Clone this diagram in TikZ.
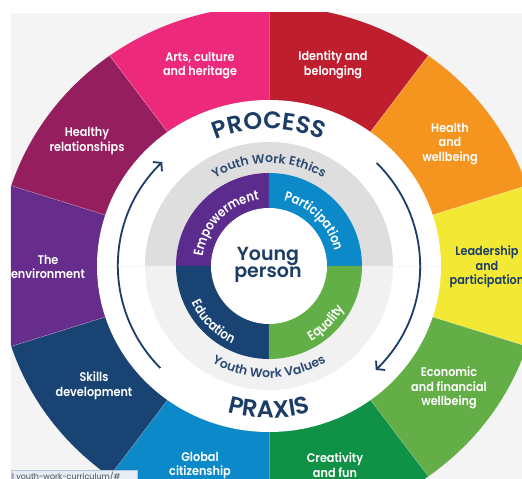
\documentclass[tikz,border=0pt]{standalone}
\usepackage{fontspec}
\setmainfont{Poppins}[BoldFont={Poppins SemiBold}]
\newfontfamily\narin{Poppins SemiBold}[FakeStretch=0.85]
\newfontfamily\narout{Poppins SemiBold}[FakeStretch=0.9]
\usetikzlibrary{decorations.text,arrows.meta}
\definecolor{navy}{HTML}{1B3D66}
\definecolor{ethics}{HTML}{2E4B74}
\definecolor{bggray}{HTML}{F4F4F4}
\definecolor{ringtop}{HTML}{DEDEDE}
\definecolor{ringbot}{HTML}{F1F1F1}
\definecolor{cIdent}{HTML}{BE1E2D}
\definecolor{cArts}{HTML}{EC297B}
\definecolor{cHeal}{HTML}{951E5F}
\definecolor{cEnv}{HTML}{662D8C}
\definecolor{cSkill}{HTML}{184373}
\definecolor{cGlob}{HTML}{0B89C8}
\definecolor{cCreat}{HTML}{0F9146}
\definecolor{cEcon}{HTML}{63AE47}
\definecolor{cLead}{HTML}{F3E935}
\definecolor{cHealth}{HTML}{F5941F}
\definecolor{cEmp}{HTML}{5B2C8E}
\definecolor{cPart}{HTML}{0B89C8}
\definecolor{cEdu}{HTML}{184373}
\definecolor{cEqu}{HTML}{62AE47}
\definecolor{urlbg}{HTML}{E6EDF5}
\definecolor{urlbd}{HTML}{B7C7DA}
\begin{document}
\begin{tikzpicture}[x=1pt,y=1pt,
  seglabel/.style={align=center,text=white,font=\narout\fontsize{12.5}{14.7}\selectfont,inner sep=0pt},
  cyclearrow/.style={navy,line width=1.8pt,-{Straight Barb[length=5.5pt,width=13pt]}}]
\useasboundingbox (-269,-213) rectangle (253,266);
\fill[white] (-269,-213) rectangle (253,266);
\fill[bggray] (-258,-213) rectangle (253,253);
\begin{scope}
\clip (-258,-213) rectangle (253,253);
\foreach \s/\c in {54/cIdent,18/cHealth,-18/cLead,-54/cEcon,-90/cCreat,-126/cGlob,-162/cSkill,162/cEnv,126/cHeal,90/cArts}
  \fill[\c] (0,0) -- (\s:271 and 260) arc[start angle=\s, end angle=\s+36, x radius=271, y radius=260] -- cycle;
\foreach \s in {54,18,-18,-54,-90,-126,-162,162,126,90}
  \draw[white,opacity=.3,line width=.6pt] (0,0) -- (\s:271 and 260);
\node[seglabel] (arts) at (-69,200.5) {Arts, culture\\and heritage};
\node[seglabel] (ident) at (64,201) {Identity and\\belonging};
\node[seglabel] (heal) at (-182,125) {Healthy\\relationships};
\node[seglabel] (health) at (181,122) {Health\\and\\wellbeing};
\node[seglabel] (env) at (-221,-1) {The\\environment};
\node[seglabel,text=navy] (lead) at (218,-1) {Leadership\\and\\participation};
\node[seglabel] (skill) at (-175,-120) {Skills\\development};
\node[seglabel] (econ) at (180,-122) {Economic\\and financial\\wellbeing};
\node[seglabel] (glob) at (-69,-199.5) {Global\\citizenship};
\node[seglabel] (creat) at (66,-199.5) {Creativity\\and fun};
\end{scope}
% white ring
\fill[white] (0,0) ellipse [x radius=172, y radius=166];
% gray ring
\fill[ringtop] (124,0) arc[start angle=0,end angle=180,radius=124] -- cycle;
\fill[ringbot] (-124,0) arc[start angle=180,end angle=360,radius=124] -- cycle;
\draw[ringbot!60!white,line width=.5pt] (-172,0) -- (-124,0) (124,0) -- (172,0);
% inner ring
\fill[cEmp] (0,0) -- (180:93) arc[start angle=180,end angle=90,radius=93] -- cycle;
\fill[cPart] (0,0) -- (90:93) arc[start angle=90,end angle=0,radius=93] -- cycle;
\fill[cEdu] (0,0) -- (180:93) arc[start angle=180,end angle=270,radius=93] -- cycle;
\fill[cEqu] (0,0) -- (270:93) arc[start angle=270,end angle=360,radius=93] -- cycle;
\fill[white] (0,0) circle (58);
% curved texts
\path[decorate,decoration={text along path,text align=center,
  text={|\bfseries\fontsize{24}{24}\selectfont\color{navy}|PROCESS}}]
  (180:137) arc[start angle=180,end angle=0,radius=137];
\path[decorate,decoration={text along path,text align=center,
  text={|\bfseries\fontsize{24}{24}\selectfont\color{navy}|PRAXIS}}]
  (180:152) arc[start angle=180,end angle=360,radius=152];
\path[decorate,decoration={text along path,text align=center,
  text={|\bfseries\fontsize{12.5}{12.5}\selectfont\color{ethics}|Youth Work Ethics}}]
  (180:103) arc[start angle=180,end angle=0,radius=103];
\path[decorate,decoration={text along path,text align=center,
  text={|\bfseries\fontsize{12.5}{12.5}\selectfont\color{ethics}|Youth Work Values}}]
  (180:112) arc[start angle=180,end angle=360,radius=112];
\path[decorate,decoration={text along path,text align=center,
  text={|\narin\fontsize{13.5}{13.5}\selectfont\color{white}|Empowerment}}]
  (180:67) arc[start angle=180,end angle=90,radius=67];
\path[decorate,decoration={text along path,text align=center,
  text={|\narin\fontsize{13.5}{13.5}\selectfont\color{white}|Participation}}]
  (90:67) arc[start angle=90,end angle=0,radius=67];
\path[decorate,decoration={text along path,text align=center,
  text={|\narin\fontsize{13.5}{13.5}\selectfont\color{white}|Education}}]
  (180:86) arc[start angle=180,end angle=270,radius=86];
\path[decorate,decoration={text along path,text align=center,
  text={|\narin\fontsize{13.5}{13.5}\selectfont\color{white}|Equality}}]
  (270:86) arc[start angle=270,end angle=360,radius=86];
% centre
\node[font=\bfseries\fontsize{19}{16.5}\selectfont,text=navy,align=center,inner sep=0pt] (yp) at (-1,1) {Young\\person};
% cycle arrows
\draw[cyclearrow] (224:151 and 147) arc[start angle=224,end angle=135,x radius=151,y radius=147];
\draw[cyclearrow] (44.5:151 and 147) arc[start angle=44.5,end angle=-45,x radius=151,y radius=147];
% url tooltip
\begin{scope}
\clip (-269,-213) rectangle (253,266);
\filldraw[fill=urlbg,draw=urlbd,line width=.5pt] (-258,-216) rectangle (-132,-204);
\node[anchor=north west,font=\fontsize{8}{8}\selectfont,text=black!70,inner sep=0pt] (url) at (-257,-206) {l youth-work-curriculum/\#};
\end{scope}
\end{tikzpicture}
\end{document}
